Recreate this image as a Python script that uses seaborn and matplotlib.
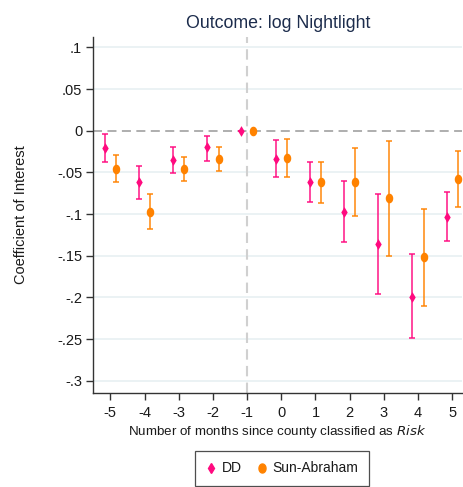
import numpy as np
import pandas as pd
import matplotlib
matplotlib.use("Agg")
import matplotlib.pyplot as plt
from matplotlib.path import Path
from matplotlib.lines import Line2D
import seaborn as sns

# Event-study estimates by month relative to classification
months = [-5, -4, -3, -2, -1, 0, 1, 2, 3, 4, 5]

dd_coef = [-0.021, -0.062, -0.035, -0.020, 0.0, -0.034, -0.061, -0.097, -0.136, -0.199, -0.103]
dd_lo = [-0.038, -0.082, -0.051, -0.036, 0.0, -0.056, -0.085, -0.134, -0.196, -0.249, -0.132]
dd_hi = [-0.004, -0.042, -0.019, -0.006, 0.0, -0.011, -0.037, -0.060, -0.076, -0.148, -0.073]

sa_coef = [-0.046, -0.097, -0.046, -0.034, 0.0, -0.033, -0.062, -0.062, -0.081, -0.152, -0.058]
sa_lo = [-0.062, -0.118, -0.060, -0.048, 0.0, -0.056, -0.087, -0.102, -0.150, -0.210, -0.092]
sa_hi = [-0.029, -0.076, -0.032, -0.019, 0.0, -0.010, -0.037, -0.021, -0.012, -0.094, -0.024]

y_ticks = [0.1, 0.05, 0, -0.05, -0.1, -0.15, -0.2, -0.25, -0.3]
y_tick_labels = [".1", ".05", "0", "-.05", "-.1", "-.15", "-.2", "-.25", "-.3"]

sns.set_theme(style="white")
plt.rcParams["font.family"] = ["Liberation Sans", "DejaVu Sans"]

DD_COLOR = "#FF0A7F"
SA_COLOR = "#FF8200"
TEXT = "#1A1A1A"
offset = 0.165

# slightly tall ellipse used as the round marker
theta = np.linspace(0, 2 * np.pi, 41)
ellipse = Path(np.column_stack([0.78 * np.cos(theta), np.sin(theta)]), closed=True)

rows = []
for m, c, lo, hi in zip(months, dd_coef, dd_lo, dd_hi):
    rows.append(dict(month=m - offset, coef=c, lo=lo, hi=hi, model="DD"))
for m, c, lo, hi in zip(months, sa_coef, sa_lo, sa_hi):
    rows.append(dict(month=m + offset, coef=c, lo=lo, hi=hi, model="Sun-Abraham"))
df = pd.DataFrame(rows)

fig = plt.figure(figsize=(4.64, 4.87), dpi=100)
ax = fig.add_axes([0.201, 0.194, 0.795, 0.731])

# grid and reference lines
for yv in y_ticks:
    if yv != 0:
        ax.axhline(yv, color="#E6EFF1", lw=1.1, zorder=0)
ax.axhline(0, color="#A8A8A8", lw=1.3, ls=(0, (5, 3)), zorder=1)
ax.axvline(-1, color="#D0D0D0", lw=1.5, ls=(0, (5, 3)), zorder=1)

# confidence intervals
for name, color in [("DD", DD_COLOR), ("Sun-Abraham", SA_COLOR)]:
    sub = df[df.model == name]
    ax.errorbar(sub.month, sub.coef,
                yerr=[sub.coef - sub.lo, sub.hi - sub.coef],
                fmt="none", ecolor=color, alpha=0.75, elinewidth=1.4,
                capsize=2.5, capthick=1.4, zorder=2)

# point estimates
sns.scatterplot(data=df[df.model == "DD"], x="month", y="coef",
                color=DD_COLOR, marker="d", s=30, linewidth=0,
                ax=ax, zorder=3, legend=False)
sns.scatterplot(data=df[df.model == "Sun-Abraham"], x="month", y="coef",
                color=SA_COLOR, marker=ellipse, s=48, linewidth=0,
                ax=ax, zorder=3, legend=False)

ax.set_xlim(-5.5, 5.29)
ax.set_ylim(-0.314, 0.113)
ax.set_xticks(months)
ax.set_xticklabels([str(m) for m in months], fontsize=10.5, color=TEXT)
ax.set_yticks(y_ticks)
ax.set_yticklabels(y_tick_labels, fontsize=10.5, color=TEXT)
ax.tick_params(axis="both", direction="out", length=5, width=1, color="#333333",
               left=True, bottom=True, pad=3)
ax.tick_params(axis="x", pad=5)

for s in ["top", "right"]:
    ax.spines[s].set_visible(False)
for s in ["left", "bottom"]:
    ax.spines[s].set_color("#333333")
    ax.spines[s].set_linewidth(1.0)

ax.set_xlabel("Number of months since county classified as $\\it{Risk}$",
              fontsize=9.6, labelpad=2, color=TEXT)
ax.set_ylabel("Coefficient of Interest", fontsize=10.5, color=TEXT)
ax.yaxis.set_label_coords(-0.176, 0.5)
ax.set_title("Outcome: log Nightlight", fontsize=12.8, color="#1C2C4C", pad=6)

handles = [
    Line2D([], [], marker="d", color=DD_COLOR, ls="none", markersize=5.5),
    Line2D([], [], marker=ellipse, color=SA_COLOR, ls="none", markersize=6.5),
]
leg = fig.legend(handles, ["DD", "Sun-Abraham"], loc="center",
                 bbox_to_anchor=(0.607, 0.038), ncol=2, frameon=True,
                 fancybox=False, fontsize=10, handletextpad=0.3,
                 columnspacing=1.0, borderpad=0.75, handlelength=0.9)
leg.get_frame().set_edgecolor("#222222")
leg.get_frame().set_linewidth(0.9)
for t in leg.get_texts():
    t.set_color(TEXT)

fig.savefig("out.png", dpi=100)
